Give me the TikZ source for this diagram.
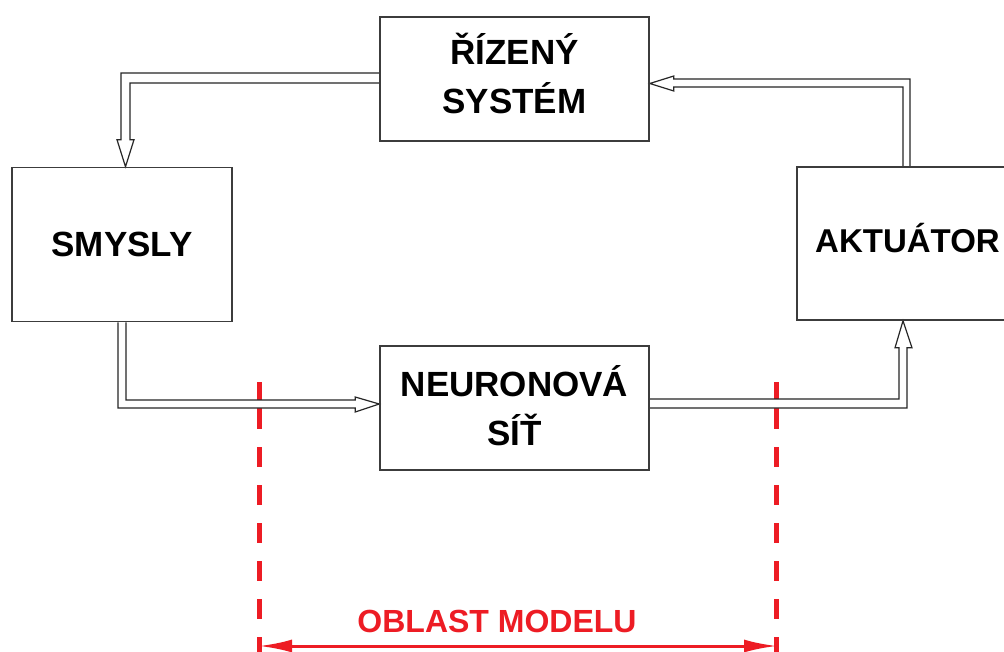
\documentclass[tikz,border=0pt]{standalone}
\usepackage{fontspec}
\setmainfont{Liberation Sans}
\usetikzlibrary{calc,arrows.meta,backgrounds}
\definecolor{modelred}{RGB}{237,28,36}
\definecolor{boxline}{RGB}{60,60,60}
\pgfdeclarelayer{foreground}
\pgfsetlayers{background,main,foreground}
\tikzset{
  block/.style={draw=boxline, line width=1.6pt, inner sep=0pt, align=center,
    font=\bfseries\fontsize{35}{49}\selectfont, text=black},
  hollow/.style={draw=black!85, fill=white, line width=1.2pt, line join=miter},
  reddash/.style={draw=modelred, line width=5pt},
  redarrow/.style={draw=modelred, line width=3pt, {Latex[length=33pt,width=13pt]}-{Latex[length=33pt,width=13pt]}},
  oblast/.style={text=modelred, font=\bfseries\fontsize{32}{38}\selectfont, inner sep=0pt}
}
\begin{document}
\begin{tikzpicture}[x=1pt,y=-1pt]
\useasboundingbox (0,0) rectangle (1004,652);
\clip (0,0) rectangle (1004,652);

\begin{pgfonlayer}{foreground}
\node[block, minimum width=269pt, minimum height=124pt, text height=70pt, text depth=0pt] (rs) at (514.5,79) {ŘÍZENÝ\\SYSTÉM};
\node[block, minimum width=220pt, minimum height=154pt] (sm) at (122,244.5) {SMYSLY};
\node[block, minimum width=269pt, minimum height=124pt, text height=74pt, text depth=0pt] (nn) at (514.5,408) {NEURONOVÁ\\SÍŤ};
\node[block, font=\bfseries\fontsize{33}{40}\selectfont, minimum width=221pt, minimum height=153pt, text height=19pt, text depth=0pt] (ak) at (907.5,243.5) {AKTUÁTOR};
\end{pgfonlayer}

% hollow double-line arrows
\filldraw[hollow] ($(rs.west)+(0,-6)$) -| ($(sm.north)+(-1,-27)$) -- ++(-4,0)
  -- ($(sm.north)+(3.5,0)$) -- ($(sm.north)+(12,-27)$) -- ++(-4,0) |- ($(rs.west)+(0,4)$);
\filldraw[hollow] ($(ak.north)+(2.5,0)$) |- ($(rs.east)+(24,0)$) -- ++(0,-3)
  -- ($(rs.east)+(0,4.5)$) -- ($(rs.east)+(24,12)$) -- ++(0,-4) -| ($(ak.north)+(-4.5,0)$);
\filldraw[hollow] ($(sm.south)+(-4,0)$) |- ($(nn.west)+(-24,0)$) -- ++(0,4)
  -- ($(nn.west)+(0,-4)$) -- ($(nn.west)+(-24,-11)$) -- ++(0,3) -| ($(sm.south)+(4,0)$);
\filldraw[hollow] ($(nn.east)+(0,-9)$) -| ($(ak.south)+(-8.5,27)$) -- ++(-4,0)
  -- ($(ak.south)+(-4.5,0)$) -- ($(ak.south)+(4.5,27)$) -- ++(-5,0) |- (nn.east);

% model region
\coordinate (LT) at (259,382);
\coordinate (LM) at (259,429);
\coordinate (LD) at (259,447);
\coordinate (LB) at (259,652);
\coordinate (RT) at (776,382);
\coordinate (RM) at (776,429);
\coordinate (RD) at (776,447);
\coordinate (RB) at (776,652);
\begin{pgfonlayer}{background}
\fill[white] (0,0) rectangle (1004,652);
\draw[reddash] (LT) -- (LM);
\draw[reddash, dash pattern=on 20pt off 18pt] (LD) -- (LB);
\draw[reddash] (RT) -- (RM);
\draw[reddash, dash pattern=on 20pt off 18pt] (RD) -- (RB);
\end{pgfonlayer}
\coordinate (LA) at (259,646);
\coordinate (RA) at (777,646);
\draw[redarrow] (LA) -- (RA);
\node[oblast, anchor=base] (om) at (497,632) {OBLAST MODELU};
\end{tikzpicture}
\end{document}
